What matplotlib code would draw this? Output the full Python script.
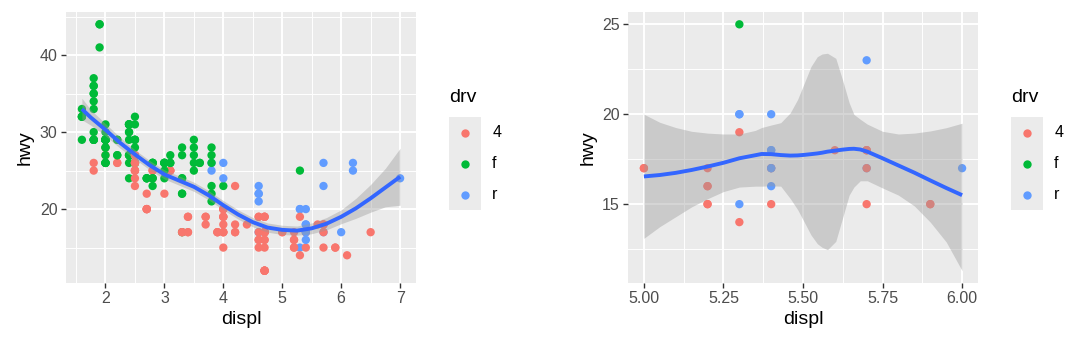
import numpy as np
import matplotlib
matplotlib.use("Agg")
import matplotlib.pyplot as plt
from matplotlib.ticker import AutoMinorLocator

plt.rcParams["font.family"] = ["Liberation Sans", "DejaVu Sans"]

# mpg data (displ, hwy, drv), row order kept so overlaps stack as in the original
displ = [
    1.8, 1.8, 2.0, 2.0, 2.8, 2.8, 3.1,
    1.8, 1.8, 2.0, 2.0, 2.8, 2.8, 3.1, 3.1,
    2.8, 3.1, 4.2,
    5.3, 5.3, 5.3, 5.7, 6.0,
    5.7, 5.7, 6.2, 6.2, 7.0,
    5.3, 5.3, 5.7, 6.5,
    2.4, 2.4, 3.1, 3.5, 3.6,
    2.4, 3.0, 3.3, 3.3, 3.3, 3.3, 3.3, 3.8, 3.8, 3.8, 4.0,
    3.7, 3.7, 3.9, 3.9, 4.7, 4.7, 4.7, 5.2, 5.2,
    3.9, 4.7, 4.7, 4.7, 5.2, 5.7, 5.9,
    4.7, 4.7, 4.7, 4.7, 4.7, 4.7, 5.2, 5.2, 5.7, 5.9,
    4.6, 5.4, 5.4,
    4.0, 4.0, 4.0, 4.0, 4.6, 5.0,
    4.2, 4.2, 4.6, 4.6, 4.6, 5.4, 5.4,
    3.8, 3.8, 4.0, 4.0, 4.6, 4.6, 4.6, 4.6, 5.4,
    1.6, 1.6, 1.6, 1.6, 1.6, 1.8, 1.8, 1.8, 2.0,
    2.4, 2.4, 2.4, 2.4, 2.5, 2.5, 3.3,
    2.0, 2.0, 2.0, 2.0, 2.7, 2.7, 2.7,
    3.0, 3.7, 4.0, 4.7, 4.7, 4.7, 5.7, 6.1,
    4.0, 4.2, 4.4, 4.6,
    5.4, 5.4, 5.4,
    4.0, 4.0, 4.6, 5.0,
    2.4, 2.4, 2.5, 2.5, 3.5, 3.5,
    3.0, 3.0, 3.5,
    3.3, 3.3, 4.0, 5.6,
    3.1, 3.8, 3.8, 3.8, 5.3,
    2.5, 2.5, 2.5, 2.5, 2.5, 2.5,
    2.2, 2.2, 2.5, 2.5, 2.5, 2.5, 2.5, 2.5,
    2.7, 2.7, 3.4, 3.4, 4.0, 4.7,
    2.2, 2.2, 2.4, 2.4, 3.0, 3.0, 3.5,
    2.2, 2.2, 2.4, 2.4, 3.0, 3.0, 3.3,
    1.8, 1.8, 1.8, 1.8, 1.8,
    4.7, 5.7,
    2.7, 2.7, 2.7, 3.4, 3.4, 4.0, 4.0,
    2.0, 2.0, 2.0, 2.0, 2.8,
    1.9, 2.0, 2.0, 2.0, 2.0, 2.5, 2.5, 2.8, 2.8,
    1.9, 1.9, 2.0, 2.0, 2.5, 2.5,
    1.8, 1.8, 2.0, 2.0, 2.8, 2.8, 3.6,
]
hwy = [
    29, 29, 31, 30, 26, 26, 27,
    26, 25, 28, 27, 25, 25, 25, 25,
    24, 25, 23,
    20, 15, 20, 17, 17,
    26, 23, 26, 25, 24,
    19, 14, 15, 17,
    27, 30, 26, 29, 26,
    24, 24, 22, 22, 24, 24, 17, 22, 21, 23, 23,
    19, 18, 17, 17, 19, 19, 12, 17, 15,
    17, 17, 12, 17, 16, 18, 15,
    16, 12, 17, 17, 16, 12, 15, 16, 17, 15,
    17, 17, 18,
    17, 19, 17, 19, 19, 17,
    17, 17, 16, 16, 17, 15, 17,
    26, 25, 26, 24, 21, 22, 23, 22, 20,
    33, 32, 32, 29, 32, 34, 36, 36, 29,
    26, 27, 30, 31, 26, 26, 28,
    26, 29, 28, 27, 24, 24, 24,
    22, 19, 20, 17, 12, 19, 18, 14,
    15, 18, 18, 15,
    17, 16, 18,
    17, 19, 19, 17,
    29, 27, 31, 32, 27, 26,
    26, 25, 25,
    17, 17, 20, 18,
    26, 26, 27, 28, 25,
    25, 24, 27, 25, 26, 23,
    26, 26, 26, 26, 25, 27, 25, 27,
    20, 20, 19, 17, 20, 17,
    29, 27, 31, 31, 26, 26, 28,
    27, 29, 31, 31, 26, 26, 27,
    30, 33, 35, 37, 35,
    15, 18,
    20, 20, 22, 17, 19, 18, 20,
    29, 26, 29, 29, 24,
    44, 29, 26, 29, 29, 29, 29, 23, 24,
    44, 41, 29, 26, 28, 29,
    29, 29, 28, 29, 26, 26, 26,
]
drv = (["f"] * 7 + ["4"] * 8 + ["4"] * 3 + ["r"] * 5 + ["r"] * 5 + ["4"] * 4
       + ["f"] * 5 + ["f"] * 11 + ["4"] * 9 + ["4"] * 7 + ["4"] * 10 + ["r"] * 3
       + ["4"] * 6 + ["4"] * 7 + ["r"] * 9 + ["f"] * 9 + ["f"] * 7 + ["f"] * 7
       + ["4"] * 8 + ["4"] * 4 + ["r"] * 3 + ["4"] * 4 + ["f"] * 6 + ["f"] * 3
       + ["4"] * 4 + ["f"] * 5 + ["4"] * 6 + ["4"] * 8 + ["4"] * 6 + ["f"] * 7
       + ["f"] * 7 + ["f"] * 5 + ["4"] * 2 + ["4"] * 7 + ["f"] * 5 + ["f"] * 9
       + ["f"] * 6 + ["f"] * 7)

drv_levels = ["4", "f", "r"]
drv_colors = {"4": "#F8766D", "f": "#00BA38", "r": "#619CFF"}

# loess smooth, full data
smooth_x = [1.6, 1.75, 2.0, 2.25, 2.5, 2.75, 3.0, 3.25, 3.5, 3.75, 4.0, 4.25,
            4.5, 4.75, 5.0, 5.25, 5.5, 5.75, 6.0, 6.25, 6.5, 6.75, 7.0]
smooth_fit = [33.0, 31.9, 30.3, 28.6, 27.1, 25.7, 24.5, 23.7, 22.9, 21.8, 20.5, 19.3,
              18.3, 17.6, 17.3, 17.2, 17.5, 18.1, 19.0, 20.1, 21.4, 22.8, 24.2]
smooth_lo = [31.6, 30.9, 29.5, 27.9, 26.5, 25.1, 23.9, 23.1, 22.3, 21.2, 19.9, 18.7,
             17.7, 17.0, 16.7, 16.6, 16.8, 17.3, 18.1, 18.8, 19.6, 20.3, 20.5]
smooth_hi = [34.4, 32.9, 31.1, 29.3, 27.7, 26.3, 25.1, 24.3, 23.5, 22.4, 21.1, 19.9,
             18.9, 18.2, 17.9, 17.8, 18.2, 18.9, 19.9, 21.4, 23.2, 25.3, 27.9]

# loess smooth, 5 <= displ <= 6 subset
zoom_x = [5.00, 5.05, 5.10, 5.15, 5.20, 5.25, 5.30, 5.35, 5.37, 5.40, 5.43, 5.46,
          5.483, 5.504, 5.525, 5.545, 5.56, 5.577, 5.603, 5.624, 5.645, 5.66, 5.68,
          5.702, 5.75, 5.80, 5.85, 5.90, 5.95, 6.00]
zoom_fit = [16.54, 16.62, 16.74, 16.90, 17.09, 17.30, 17.55, 17.72, 17.79, 17.78, 17.73, 17.70,
            17.71, 17.74, 17.78, 17.82, 17.86, 17.92, 17.98, 18.03, 18.07, 18.08, 18.04,
            17.92, 17.55, 17.15, 16.75, 16.32, 15.90, 15.50]
zoom_hi = [20.0, 19.55, 19.26, 19.05, 18.95, 18.90, 18.90, 19.10, 19.26, 19.40, 19.53, 20.08,
           20.82, 21.73, 22.65, 23.20, 23.35, 23.39, 23.11, 21.92, 20.64, 19.99, 19.72,
           19.45, 19.05, 18.90, 18.95, 19.07, 19.25, 19.50]
zoom_lo = [13.1, 13.75, 14.3, 14.85, 15.3, 15.7, 15.95, 16.0, 16.0, 16.02, 16.0, 15.31,
           14.7, 14.0, 13.29, 12.8, 12.6, 12.47, 12.93, 14.21, 15.50, 15.95, 16.3,
           16.3, 15.9, 15.5, 14.9, 14.0, 12.9, 11.3]

W, H = 1080, 349
BG = "#EBEBEB"

fig = plt.figure(figsize=(W / 100, H / 100), dpi=100, facecolor="white")


def px_axes(x0, y0, x1, y1):
    return fig.add_axes([x0 / W, 1 - y1 / H, (x1 - x0) / W, (y1 - y0) / H])


def style_panel(ax):
    ax.set_facecolor(BG)
    for sp in ax.spines.values():
        sp.set_visible(False)
    ax.set_axisbelow(True)
    ax.xaxis.set_minor_locator(AutoMinorLocator(2))
    ax.yaxis.set_minor_locator(AutoMinorLocator(2))
    ax.grid(which="major", color="white", linewidth=1.4)
    ax.grid(which="minor", color="white", linewidth=0.7)
    ax.tick_params(which="major", length=3.6, width=1.0, color="#333333",
                   labelcolor="#4D4D4D", labelsize=11.5, pad=2.5)
    ax.tick_params(which="minor", length=0)
    ax.set_xlabel("displ", fontsize=14, labelpad=3)
    ax.set_ylabel("hwy", fontsize=14, labelpad=4)
    ax.margins(0.05)


def draw_legend(x0):
    top = 117
    key = 31
    lax = px_axes(x0, top, x0 + 32, top + 3 * key)
    lax.set_facecolor(BG)
    lax.set_xlim(0, 1)
    lax.set_ylim(3, 0)
    lax.set_xticks([])
    lax.set_yticks([])
    for sp in lax.spines.values():
        sp.set_visible(False)
    for i, lev in enumerate(drv_levels):
        lax.scatter([0.5], [i + 0.5], s=36, color=drv_colors[lev], linewidths=0)
        lax.text(1.35, i + 0.5, lev, fontsize=11.5, va="center", ha="left",
                 transform=lax.transData, clip_on=False)
    fig.text(x0 / W, 1 - 97 / H, "drv", fontsize=14, va="center", ha="left")


def draw_panel(ax, xs, ys, ds, sx, sfit, slo, shi):
    style_panel(ax)
    ax.scatter(xs, ys, s=36, c=[drv_colors[d] for d in ds], linewidths=0, zorder=2)
    ax.fill_between(sx, slo, shi, color="#999999", alpha=0.4, linewidth=0, zorder=3)
    ax.plot(sx, sfit, color="#3366FF", linewidth=2.8, zorder=4, solid_capstyle="butt")


# left: all cars
ax1 = px_axes(66, 12, 416, 283)
draw_panel(ax1, displ, hwy, drv, smooth_x, smooth_fit, smooth_lo, smooth_hi)
ax1.set_xticks([2, 3, 4, 5, 6, 7])
ax1.set_yticks([20, 30, 40])
draw_legend(449)

# right: displ between 5 and 6
d_arr = np.array(displ)
h_arr = np.array(hwy)
keep = (d_arr >= 5) & (d_arr <= 6) & (h_arr <= 25)
sub_drv = [d for d, k in zip(drv, keep) if k]
ax2 = px_axes(628, 12, 978, 283)
draw_panel(ax2, d_arr[keep], h_arr[keep], sub_drv, zoom_x, zoom_fit, zoom_lo, zoom_hi)
ax2.set_xticks([5.0, 5.25, 5.5, 5.75, 6.0])
ax2.set_xticklabels(["5.00", "5.25", "5.50", "5.75", "6.00"])
ax2.set_yticks([15, 20, 25])
draw_legend(1011)

fig.savefig("out.png", dpi=100, facecolor="white")
